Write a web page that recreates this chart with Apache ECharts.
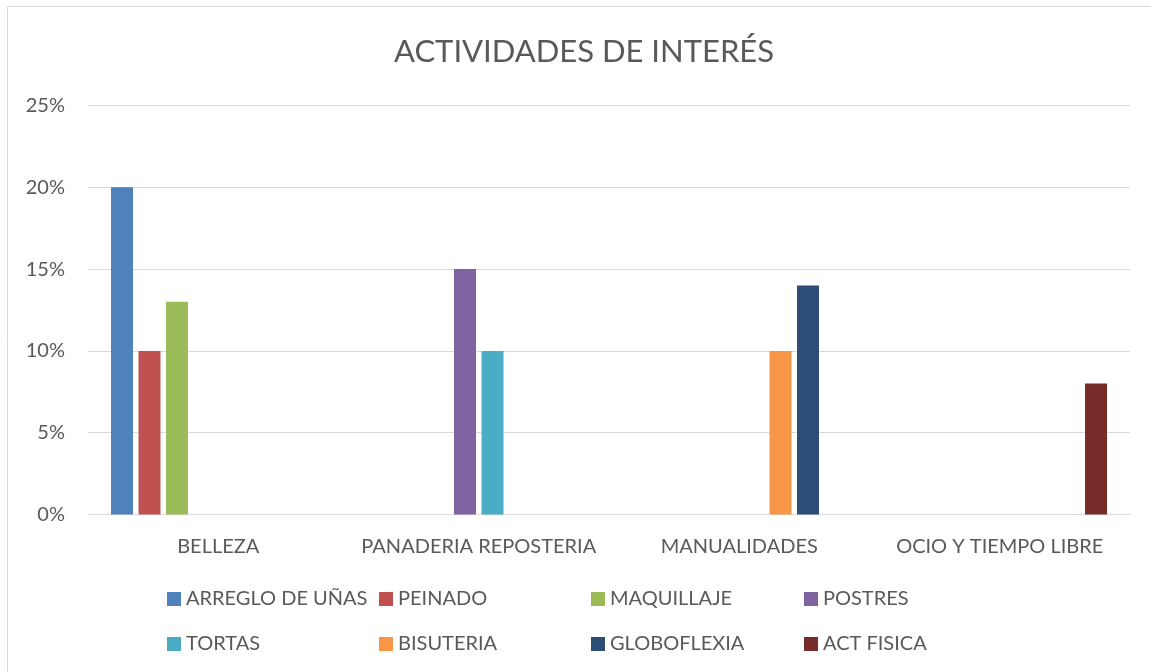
<!DOCTYPE html>
<html>
<head>
<meta charset="utf-8">
<title>Actividades de interés</title>
<script src="https://cdn.jsdelivr.net/npm/echarts@6/dist/echarts.min.js"></script>
<style>
  html, body { margin: 0; padding: 0; background: #fff; }
  #chart { width: 1151px; height: 672px; }
</style>
</head>
<body>
<div id="chart"></div>
<script>
// datos (porcentajes)
var categories = ['BELLEZA', 'PANADERIA REPOSTERIA', 'MANUALIDADES', 'OCIO Y TIEMPO LIBRE'];
var seriesNames = ['ARREGLO DE UÑAS', 'PEINADO', 'MAQUILLAJE', 'POSTRES',
                   'TORTAS', 'BISUTERIA', 'GLOBOFLEXIA', 'ACT FISICA'];
var seriesColors = ['#4F81BD', '#C0504D', '#9BBB59', '#8064A2',
                    '#4BACC6', '#F79646', '#2C4D75', '#772C2A'];
var arregloUnas = [20, null, null, null];
var peinado     = [10, null, null, null];
var maquillaje  = [13, null, null, null];
var postres     = [null, 15, null, null];
var tortas      = [null, 10, null, null];
var bisuteria   = [null, null, 10, null];
var globoflexia = [null, null, 14, null];
var actFisica   = [null, null, null, 8];
var yTicks = [0, 5, 10, 15, 20, 25];

var seriesData = [arregloUnas, peinado, maquillaje, postres, tortas, bisuteria, globoflexia, actFisica];
var FONT = 'Lato';
var TXT = '#595959';

// leyenda en dos filas de cuatro columnas
var legendCols = [167, 379, 591, 804];
var legendRows = [589, 634];
var legends = seriesNames.map(function (name, i) {
  return {
    data: [name],
    left: legendCols[i % 4],
    top: legendRows[Math.floor(i / 4)],
    itemWidth: 14,
    itemHeight: 14,
    itemGap: 0,
    padding: 0,
    icon: 'rect',
    selectedMode: false,
    textStyle: { color: TXT, fontFamily: FONT, fontSize: 20, lineHeight: 20, padding: [0, 0, 0, 0] }
  };
});

var chart = echarts.init(document.getElementById('chart'));
chart.setOption({
  animation: false,
  title: {
    text: 'ACTIVIDADES DE INTERÉS',
    left: 579,
    textAlign: 'center',
    top: 31,
    textStyle: { color: TXT, fontFamily: FONT, fontSize: 31, fontWeight: 'normal' }
  },
  graphic: [{
    type: 'rect',
    shape: { x: 7.5, y: 6.5, width: 1200, height: 700 },
    style: { fill: 'none', stroke: '#D9D9D9', lineWidth: 1 },
    silent: true
  }],
  legend: legends,
  grid: { left: 88, right: 21, top: 105.5, bottom: 157.5 },
  xAxis: {
    type: 'category',
    data: categories,
    axisLine: { lineStyle: { color: '#D9D9D9', width: 1 } },
    axisTick: { show: false },
    axisLabel: { color: TXT, fontFamily: FONT, fontSize: 20, margin: 22, interval: 0 }
  },
  yAxis: {
    type: 'value',
    min: yTicks[0],
    max: yTicks[yTicks.length - 1],
    interval: 5,
    axisLine: { show: false },
    axisTick: { show: false },
    splitLine: { lineStyle: { color: '#D9D9D9', width: 1 } },
    axisLabel: { color: TXT, fontFamily: FONT, fontSize: 20, margin: 23, formatter: '{value}%' }
  },
  series: seriesNames.map(function (name, i) {
    return {
      name: name,
      type: 'bar',
      data: seriesData[i],
      barWidth: 22,
      barGap: '25%',
      itemStyle: { color: seriesColors[i] }
    };
  })
});
</script>
</body>
</html>
